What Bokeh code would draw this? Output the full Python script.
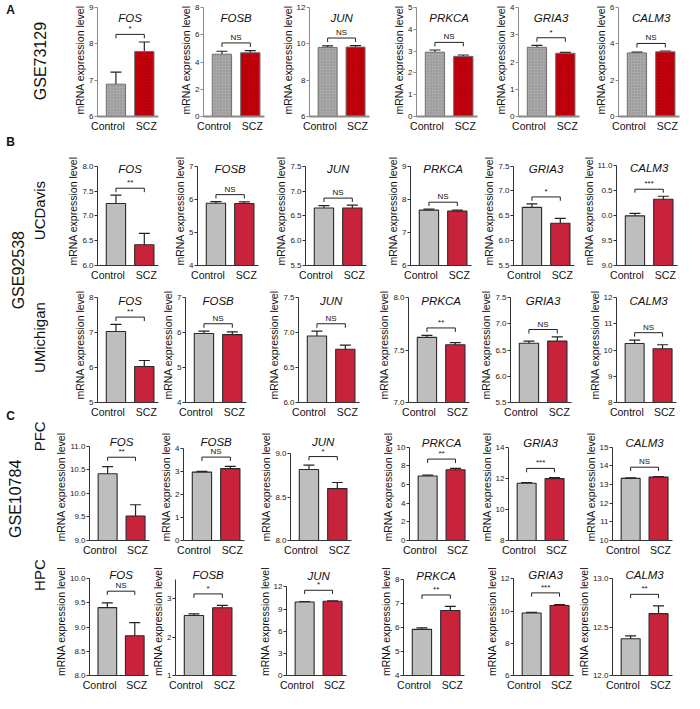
import math
from bokeh.plotting import figure
from bokeh.layouts import row, column
from bokeh.models import (Range1d, FixedTicker, ColumnDataSource, Whisker,
                          TeeHead, Label, Spacer)
from bokeh.embed import file_html
from bokeh.resources import INLINE

FONT = "Liberation Sans"

# ------------------------------------------------------------------ data
GENES = ["FOS", "FOSB", "JUN", "PRKCA", "GRIA3", "CALM3"]
GROUPS = ["Control", "SCZ"]
Y_LABEL = "mRNA expression level"

# A  GSE73129
A_ctrl = [6.89, 4.57, 9.80, 2.95, 2.54, 3.50]
A_ctrl_err = [0.33, 0.22, 0.09, 0.10, 0.07, 0.04]
A_scz = [7.79, 4.68, 9.82, 2.76, 2.32, 3.56]
A_scz_err = [0.26, 0.16, 0.08, 0.06, 0.03, 0.04]
A_sig = ["*", "NS", "NS", "NS", "*", "NS"]
A_ticks = [[6, 7, 8, 9], [0, 2, 4, 6, 8], [6, 8, 10, 12],
           [0, 1, 2, 3, 4, 5], [0, 1, 2, 3, 4], [0, 2, 4, 6]]

# B  GSE92538 - UCDavis
B1_ctrl = [7.25, 5.88, 6.66, 7.67, 6.67, 9.99]
B1_ctrl_err = [0.17, 0.05, 0.05, 0.03, 0.07, 0.05]
B1_scz = [6.42, 5.87, 6.66, 7.64, 6.35, 10.32]
B1_scz_err = [0.23, 0.05, 0.06, 0.03, 0.10, 0.06]
B1_sig = ["**", "NS", "NS", "NS", "*", "***"]
B1_ticks = [[6.0, 6.5, 7.0, 7.5, 8.0], [4, 5, 6, 7], [5.5, 6.0, 6.5, 7.0, 7.5],
            [6, 7, 8, 9], [5.5, 6.0, 6.5, 7.0, 7.5], [9.0, 9.5, 10.0, 10.5, 11.0]]
B1_CALM3_tick_labels = ["9.0", "9.5", "0.0", "0.5", "11.0"]

# B  GSE92538 - UMichigan
B2_ctrl = [7.03, 5.97, 6.95, 7.62, 6.63, 10.25]
B2_ctrl_err = [0.20, 0.07, 0.07, 0.02, 0.04, 0.13]
B2_scz = [6.03, 5.94, 6.76, 7.55, 6.67, 10.05]
B2_scz_err = [0.17, 0.08, 0.06, 0.02, 0.08, 0.15]
B2_sig = ["**", "NS", "NS", "**", "NS", "NS"]
B2_ticks = [[5, 6, 7, 8], [4, 5, 6, 7], [6.0, 6.5, 7.0, 7.5],
            [7.0, 7.5, 8.0], [5.5, 6.0, 6.5, 7.0, 7.5], [8, 9, 10, 11, 12]]

# C  GSE10784 - PFC
C1_ctrl = [10.42, 2.96, 8.82, 6.92, 11.68, 13.33]
C1_ctrl_err = [0.15, 0.03, 0.05, 0.10, 0.05, 0.03]
C1_scz = [9.52, 3.11, 8.60, 7.58, 11.98, 13.40]
C1_scz_err = [0.24, 0.10, 0.07, 0.15, 0.06, 0.03]
C1_sig = ["**", "NS", "*", "**", "***", "NS"]
C1_ticks = [[9.0, 9.5, 10.0, 10.5, 11.0], [0, 1, 2, 3, 4], [8.0, 8.5, 9.0],
            [0, 2, 4, 6, 8, 10], [8, 10, 12, 14], [10, 11, 12, 13, 14, 15]]

# C  GSE10784 - HPC
C2_ctrl = [9.40, 2.56, 9.95, 5.93, 9.88, 12.38]
C2_ctrl_err = [0.10, 0.04, 0.05, 0.06, 0.04, 0.03]
C2_scz = [8.82, 2.76, 10.05, 6.72, 10.35, 12.64]
C2_scz_err = [0.27, 0.06, 0.05, 0.17, 0.06, 0.08]
C2_sig = ["NS", "*", "*", "**", "***", "**"]
C2_ticks = [[8.0, 8.5, 9.0, 9.5, 10.0], [1, 2, 3], [0, 3, 6, 9, 12],
            [4, 5, 6, 7, 8], [6, 8, 10, 12], [12.0, 12.5, 13.0]]
C2_ymax = [10.0, 3.5, 12, 8, 12, 13.0]

ROWS = [
    dict(ctrl=A_ctrl, ce=A_ctrl_err, scz=A_scz, se=A_scz_err, sig=A_sig,
         ticks=A_ticks, ymax=None, dotted=True),
    dict(ctrl=B1_ctrl, ce=B1_ctrl_err, scz=B1_scz, se=B1_scz_err, sig=B1_sig,
         ticks=B1_ticks, ymax=None, dotted=False),
    dict(ctrl=B2_ctrl, ce=B2_ctrl_err, scz=B2_scz, se=B2_scz_err, sig=B2_sig,
         ticks=B2_ticks, ymax=None, dotted=False),
    dict(ctrl=C1_ctrl, ce=C1_ctrl_err, scz=C1_scz, se=C1_scz_err, sig=C1_sig,
         ticks=C1_ticks, ymax=None, dotted=False),
    dict(ctrl=C2_ctrl, ce=C2_ctrl_err, scz=C2_scz, se=C2_scz_err, sig=C2_sig,
         ticks=C2_ticks, ymax=C2_ymax, dotted=False),
]
TICK_LABEL_OVERRIDES = {(1, 5): B1_CALM3_tick_labels}

# ------------------------------------------------------------------ layout (reference px)
S = 684 / 700.0
TOTAL_W = 684
TOTAL_H = round(709 * S)
LEFT_W = round(50 * S)
ROW_EDGES = [0, 138, 290, 430, 571, 709]
AXIS_TOP = [7, 170, 304, 450, 585]        # pixel of the top tick
AXIS_BOT = [119, 272, 411, 555, 693]      # pixel of the bottom axis
AXIS_TOP_OVERRIDE = {(1, 1): 167, (1, 3): 166, (1, 4): 167, (1, 5): 154,
                     (3, 1): 457, (3, 2): 460, (3, 3): 457, (3, 4): 457,
                     (3, 5): 457,
                     (4, 1): 593, (4, 2): 595, (4, 3): 590, (4, 4): 588,
                     (4, 5): 588}
HEADROOM = [4, 10, 10, 14, 12]            # min frame space above top tick
AXIS_X = [[97, 206, 313, 424, 528, 630],
          [97, 200, 310, 418, 523, 628],
          [97, 187, 303, 415, 520, 627],
          [88, 185, 295, 415, 517, 623],
          [88, 177, 290, 410, 522, 623]]
FRAME_W = round(64 * S)
TITLE_OFF = [10, 3, 3, -4, -4]
BRACKET_FR = [0.07, 0.07, 0.07, 0.10, 0.12]
X_LABEL_POS = [0.72, 2.07]   # label anchors relative to bars at 1 and 2


def sc(v):
    return int(round(v * S))


def tick_strings(ticks):
    if any(abs(t - round(t)) > 1e-9 for t in ticks):
        return ["%.1f" % t for t in ticks]
    return ["%d" % int(round(t)) for t in ticks]


def est_left(labels):
    w = max(sum(4.5 if c.isdigit() else 2.4 for c in s) for s in labels)
    return int(math.ceil(3 + 1 + w + 13 + 2))


def panel_geometry(r, i, cfg, tick_h):
    ticks = cfg["ticks"][i]
    ylo = ticks[0]
    yhi = cfg["ymax"][i] if cfg["ymax"] else ticks[-1]
    span = yhi - ylo
    upp = span / tick_h
    c, ce, s, se = cfg["ctrl"][i], cfg["ce"][i], cfg["scz"][i], cfg["se"][i]
    h = max(c + ce, s + se) + BRACKET_FR[r] * span
    title_y = max(yhi - TITLE_OFF[r] * upp, h + 16 * upp)
    need = (title_y - yhi) / upp + 8
    return ylo, yhi, span, upp, h, title_y, need


def make_panel(r, i, cfg, fig_w, fig_h, L, R, T, B, tick_h, head):
    ticks = cfg["ticks"][i]
    labels = TICK_LABEL_OVERRIDES.get((r, i), tick_strings(ticks))
    ylo, yhi, span, upp, h, title_y, _ = panel_geometry(r, i, cfg, tick_h)
    ytop = yhi + head * upp

    p = figure(width=fig_w, height=fig_h, x_range=Range1d(0.35, 2.5),
               y_range=Range1d(ylo, ytop), output_backend="svg",
               toolbar_location=None, tools="",
               min_border_left=L, min_border_right=R,
               min_border_top=T, min_border_bottom=B)
    p.grid.visible = False
    p.outline_line_color = None

    c, ce, s, se = cfg["ctrl"][i], cfg["ce"][i], cfg["scz"][i], cfg["se"][i]
    dotted = cfg["dotted"]
    if dotted:
        colors = ["#aaaaaa", "#c4000d"]
        hcol = ["#707070", "#820000"]
        lower = [c, s]
    else:
        colors = ["#bebebe", "#c8233b"]
        hcol = ["#bebebe", "#c8233b"]
        lower = [c - ce, s - se]
    src = ColumnDataSource(dict(x=[1, 2], top=[c, s], bottom=[ylo, ylo],
                                up=[c + ce, s + se], lo=lower,
                                color=colors, hcol=hcol))
    if dotted:
        p.vbar(x="x", top="top", bottom="bottom", width=0.68, source=src,
               fill_color="color", line_color="#6f6f6f", line_width=1,
               hatch_pattern="dot", hatch_color="hcol", hatch_scale=3,
               hatch_weight=1, hatch_alpha=0.6)
    else:
        p.vbar(x="x", top="top", bottom="bottom", width=0.68, source=src,
               fill_color="color", line_color="#2a2a2a", line_width=1.1)

    wcol = "#222222"
    w = Whisker(source=src, base="x", upper="up", lower="lo",
                line_color=wcol, line_width=1.2,
                upper_head=TeeHead(size=11, line_color=wcol, line_width=1.2),
                lower_head=None if dotted else TeeHead(size=11, line_color=wcol, line_width=1.2))
    p.add_layout(w)

    # significance bracket
    t = 4 * upp
    p.segment(x0=[1, 1, 2], y0=[h, h - t, h - t], x1=[2, 1, 2], y1=[h, h, h],
              line_color="#222222", line_width=1)
    p.add_layout(Label(x=1.5, y=h, text=cfg["sig"][i], y_offset=1,
                       text_align="center", text_baseline="bottom",
                       text_font=FONT, text_font_size="8px", text_color="#111111"))
    # gene title
    p.add_layout(Label(x=1.5, y=title_y, text=GENES[i],
                       text_align="center", text_baseline="middle",
                       text_font=FONT, text_font_size="11.5px",
                       text_font_style="italic", text_color="#111111"))

    axcol = "#8a8a8a" if dotted else "#333333"
    p.xaxis.ticker = FixedTicker(ticks=X_LABEL_POS)
    p.xaxis.major_label_overrides = {X_LABEL_POS[0]: GROUPS[0],
                                     X_LABEL_POS[1]: GROUPS[1]}
    p.xaxis.major_label_text_font = FONT
    p.xaxis.major_label_text_font_size = "10.5px"
    p.xaxis.major_label_text_color = "#111111"
    p.xaxis.major_label_standoff = 3
    p.xaxis.major_tick_out = 0
    p.xaxis.major_tick_in = 0
    p.xaxis.major_tick_line_color = None
    p.xaxis.minor_tick_line_color = None
    p.xaxis.axis_line_color = axcol
    p.xaxis.axis_line_width = 2 if dotted else 1

    p.yaxis.bounds = (ylo, yhi)
    p.yaxis.ticker = FixedTicker(ticks=ticks)
    p.yaxis.major_label_overrides = {t_: l_ for t_, l_ in zip(ticks, labels)}
    p.yaxis.major_label_text_font = FONT
    p.yaxis.major_label_text_font_size = "8px"
    p.yaxis.major_label_text_color = "#222222"
    p.yaxis.major_label_standoff = 1
    p.yaxis.major_tick_out = 3
    p.yaxis.major_tick_in = 0
    p.yaxis.minor_tick_line_color = None
    p.yaxis.axis_line_color = axcol
    p.yaxis.major_tick_line_color = axcol
    p.yaxis.axis_label = Y_LABEL
    p.yaxis.axis_label_text_font = FONT
    p.yaxis.axis_label_text_font_size = "10.5px"
    p.yaxis.axis_label_text_font_style = "normal"
    p.yaxis.axis_label_text_color = "#111111"
    p.yaxis.axis_label_standoff = 0
    return p


rows_out = []
for r, cfg in enumerate(ROWS):
    rt, rb = sc(ROW_EDGES[r]), sc(ROW_EDGES[r + 1])
    fig_h = rb - rt
    ax = [sc(v) for v in AXIS_X[r]]
    Ls = []
    for i in range(6):
        ticks = cfg["ticks"][i]
        labels = TICK_LABEL_OVERRIDES.get((r, i), tick_strings(ticks))
        Ls.append(est_left(labels))
    items = []
    spacer = ax[0] - Ls[0] - LEFT_W
    if spacer > 0:
        items.append(Spacer(width=spacer, height=fig_h))
    for i in range(6):
        start = ax[i] - Ls[i]
        end = ax[i + 1] - Ls[i + 1] if i < 5 else TOTAL_W
        fig_w = end - start
        fw = min(FRAME_W, end - ax[i] - 1)
        R = fig_w - Ls[i] - fw
        at = sc(AXIS_TOP_OVERRIDE.get((r, i), AXIS_TOP[r]))
        ab = sc(AXIS_BOT[r])
        need = panel_geometry(r, i, cfg, ab - at)[-1]
        head = int(min(at - rt, max(sc(HEADROOM[r]), math.ceil(need))))
        T = at - head - rt
        B = rb - ab
        items.append(make_panel(r, i, cfg, fig_w, fig_h, Ls[i], R, T, B,
                                ab - at, head))
    rows_out.append(row(*items))

# ------------------------------------------------------------------ left labels
lp = figure(width=LEFT_W, height=TOTAL_H, x_range=Range1d(0, LEFT_W),
            y_range=Range1d(0, TOTAL_H), x_axis_location=None,
            y_axis_location=None, output_backend="svg",
            toolbar_location=None, tools="", min_border=0)
lp.outline_line_color = None
lp.grid.visible = False


def add_text(txt, x, y, size, bold=False, vertical=False,
             align="center", baseline="middle"):
    lp.add_layout(Label(x=x * S, y=TOTAL_H - y * S, text=txt,
                        angle=math.pi / 2 if vertical else 0,
                        text_font=FONT, text_font_size=size,
                        text_font_style="bold" if bold else "normal",
                        text_align=align, text_baseline=baseline,
                        text_color="#111111"))


add_text("A", 6, 3, "12px", bold=True, align="left", baseline="top")
add_text("B", 6, 138, "12px", bold=True, align="left", baseline="top")
add_text("C", 6, 418, "12px", bold=True, align="left", baseline="top")
add_text("GSE73129", 41, 62, "16px", vertical=True)
add_text("GSE92538", 18, 276, "16px", vertical=True)
add_text("UCDavis", 40, 215, "15px", vertical=True)
add_text("UMichigan", 40, 345, "15px", vertical=True)
add_text("GSE10784", 15, 510, "16px", vertical=True)
add_text("PFC", 40, 446, "15px", vertical=True)
add_text("HPC", 40, 588, "15px", vertical=True)

layout = row(lp, column(*rows_out))
open("out.html", "w").write(file_html(layout, INLINE))
